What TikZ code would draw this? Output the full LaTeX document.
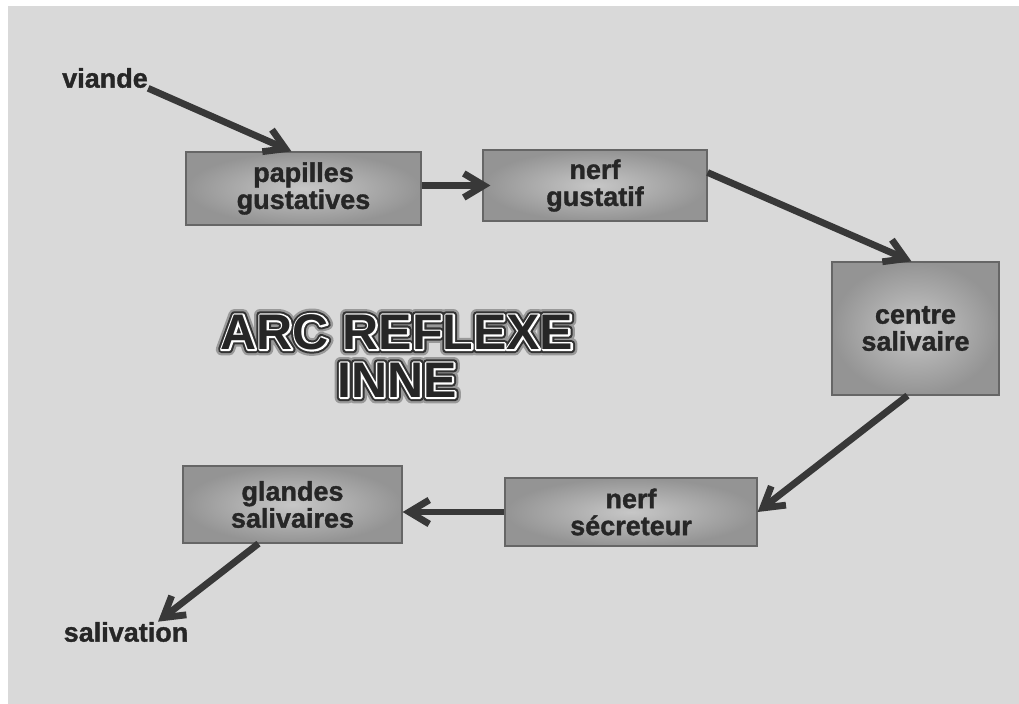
\documentclass[tikz,border=0pt]{standalone}
\usepackage{fontspec}
\setmainfont{Liberation Sans}
\newfontfamily\etiquette[BoldFeatures={FakeBold=1.2}]{Liberation Sans}
\newfontfamily\haloflou[BoldFeatures={FakeBold=24}]{Liberation Sans}
\newfontfamily\halonoir[BoldFeatures={FakeBold=15}]{Liberation Sans}
\newfontfamily\liseret[BoldFeatures={FakeBold=7}]{Liberation Sans}
\usetikzlibrary{arrows.meta}

\definecolor{fond}{HTML}{D9D9D9}
\definecolor{fleche}{HTML}{383838}

\tikzset{
  etape/.style={draw=black!60, line width=0.6pt, inner color=black!22,
    outer color=black!42, align=center, text=black!85,
    font=\etiquette\bfseries\fontsize{13.5}{13.5}\selectfont},
  mot/.style={inner sep=0pt, text=black!85,
    font=\etiquette\bfseries\fontsize{13.5}{13.5}\selectfont},
  titre/.style={align=center, inner sep=0pt, line join=round},
  fl/.style={draw=fleche, line width=3.4pt,
    -{Straight Barb[length=10pt,width=12pt]}}
}

\begin{document}
\begin{tikzpicture}[x=0.5pt,y=-0.5pt]
  \useasboundingbox (0,0) rectangle (1019,704);
  \fill[white] (0,0) rectangle (1019,704);
  \fill[fond] (8,6) rectangle (1019,704);

  % les etapes de l'arc
  \node[etape,minimum width=117.5pt,minimum height=36.5pt] (papilles)
        at (303.5,188.5) {papilles\\gustatives};
  \node[etape,minimum width=112pt,minimum height=35.5pt] (gustatif)
        at (595,185.5) {nerf\\gustatif};
  \node[etape,minimum width=83.5pt,minimum height=66.5pt] (centre)
        at (915.5,328.5) {centre\\salivaire};
  \node[etape,minimum width=126pt,minimum height=34pt] (secreteur)
        at (631,512) {nerf\\sécreteur};
  \node[etape,minimum width=109.5pt,minimum height=38.5pt] (glandes)
        at (292.5,504.5) {glandes\\salivaires};

  \node[mot] (viande) at (105,78) {viande};
  \node[mot] (salivation) at (126,632) {salivation};

  % titre au milieu, en couches
  \node[titre,text=black!40,font=\haloflou\bfseries\fontsize{25}{24}\selectfont]
        (arcflou) at (397,356) {ARC REFLEXE\\INNE};
  \node[titre,text=black!80,font=\halonoir\bfseries\fontsize{25}{24}\selectfont]
        (arcglow) at (397,356) {ARC REFLEXE\\INNE};
  \node[titre,text=white,font=\liseret\bfseries\fontsize{25}{24}\selectfont]
        (arcblanc) at (397,356) {ARC REFLEXE\\INNE};
  \node[titre,text=black!85,font=\bfseries\fontsize{25}{24}\selectfont]
        (arc) at (397,356) {ARC REFLEXE\\INNE};

  % fleches
  \draw[fl] (viande.south east) -- ([xshift=-6pt]papilles.north);
  \draw[fl,shorten >=-4pt] (papilles.east |- gustatif.west) -- (gustatif.west);
  \draw[fl] ([yshift=6.5pt]gustatif.east) -- ([xshift=-2pt]centre.north);
  \draw[fl] ([xshift=-4pt]centre.south) -- (secreteur.east);
  \draw[fl] (secreteur.west) -- (secreteur.west -| glandes.east);
  \draw[fl] ([xshift=-17pt]glandes.south) -- ([xshift=16pt]salivation.north);
\end{tikzpicture}
\end{document}
